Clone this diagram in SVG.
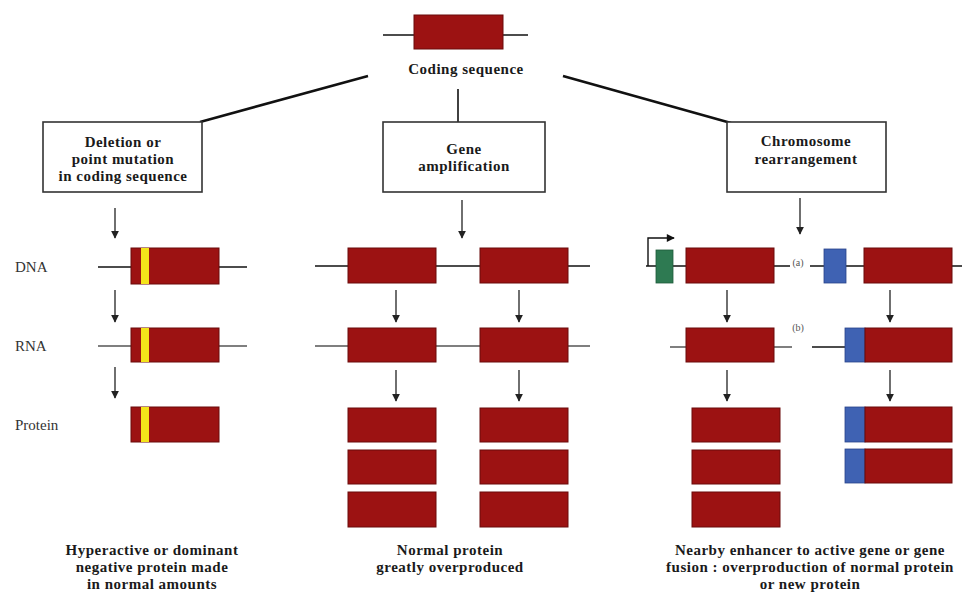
<svg xmlns="http://www.w3.org/2000/svg" width="962" height="599" viewBox="0 0 962 599">
<defs>
<marker id="ah" viewBox="0 0 10 10" refX="9" refY="5" markerWidth="8" markerHeight="9" orient="auto" markerUnits="userSpaceOnUse">
<path d="M0,0 L10,5 L0,10 z" fill="#222"/>
</marker>
<marker id="ahs" viewBox="0 0 10 10" refX="9" refY="5" markerWidth="9" markerHeight="8" orient="auto" markerUnits="userSpaceOnUse">
<path d="M0,0 L10,5 L0,10 z" fill="#111"/>
</marker>
</defs>
<style>
.t{font-family:"Liberation Serif","Times New Roman",serif;font-size:15px;font-weight:bold;letter-spacing:0.5px;fill:#1a1a1a;text-anchor:middle}
.lbl{font-family:"Liberation Serif","Times New Roman",serif;font-size:15px;fill:#333;text-anchor:start}
.sm{font-family:"Liberation Serif","Times New Roman",serif;font-size:10px;fill:#555;text-anchor:middle}
.box{fill:#fff;stroke:#333;stroke-width:1.6}
.gene{fill:#9c1212;stroke:#6b0b0b;stroke-width:1}
.yel{fill:#f4e41a}
.grn{fill:#2e7a52;stroke:#1f5a3a;stroke-width:0.8}
.blu{fill:#3f62b3;stroke:#2a448a;stroke-width:0.8}
.dna{stroke:#111;stroke-width:1.6}
.rna{stroke:#555;stroke-width:1.4}
.arr{stroke:#222;stroke-width:1.3;marker-end:url(#ah)}
.con{stroke:#111;stroke-width:2.6;fill:none}
</style>
<rect width="962" height="599" fill="#fff"/>

<g id="connectors">
<line class="con" x1="368" y1="76" x2="200" y2="122"/>
<line class="con" x1="458" y1="89" x2="458" y2="122" style="stroke-width:1.6"/>
<line class="con" x1="563" y1="76" x2="731" y2="123"/>
<line class="arr" x1="115" y1="208" x2="115" y2="238"/>
<line class="arr" x1="462" y1="200" x2="462" y2="238"/>
<line class="arr" x1="800" y1="198" x2="800" y2="234"/>
<line class="arr" x1="115" y1="290" x2="115" y2="322"/>
<line class="arr" x1="115" y1="367" x2="115" y2="398"/>
<line class="arr" x1="396" y1="290" x2="396" y2="322"/>
<line class="arr" x1="519" y1="290" x2="519" y2="322"/>
<line class="arr" x1="396" y1="370" x2="396" y2="401"/>
<line class="arr" x1="519" y1="370" x2="519" y2="401"/>
<line class="arr" x1="727" y1="290" x2="727" y2="322"/>
<line class="arr" x1="890" y1="290" x2="890" y2="322"/>
<line class="arr" x1="727" y1="370" x2="727" y2="401"/>
<line class="arr" x1="890" y1="370" x2="890" y2="401"/>
</g>

<g id="coding-sequence">
<line class="dna" x1="383" y1="35" x2="528" y2="35"/>
<rect class="gene" x="414" y="15" width="89" height="34"/>
<text class="t" x="466" y="74">Coding sequence</text>
</g>

<g id="deletion">
<rect class="box" x="43" y="122" width="159" height="70"/>
<text class="t" x="123" y="147">Deletion or</text>
<text class="t" x="123" y="164">point mutation</text>
<text class="t" x="123" y="181">in coding sequence</text>
</g>

<g id="amplification">
<rect class="box" x="383" y="122" width="162" height="70"/>
<text class="t" x="464" y="154">Gene</text>
<text class="t" x="464" y="171">amplification</text>
</g>

<g id="rearrangement">
<rect class="box" x="727" y="122" width="159" height="70"/>
<text class="t" x="806" y="146">Chromosome</text>
<text class="t" x="806" y="164">rearrangement</text>
</g>

<g id="row-labels">
<text class="lbl" x="15" y="272">DNA</text>
<text class="lbl" x="15" y="351">RNA</text>
<text class="lbl" x="15" y="430">Protein</text>
</g>

<g id="left-dna">
<line class="dna" x1="98" y1="267" x2="247" y2="267"/>
<rect class="gene" x="131" y="248" width="88" height="36"/>
<rect class="yel" x="141" y="248" width="8" height="36"/>
</g>
<g id="left-rna">
<line class="rna" x1="98" y1="346" x2="247" y2="346"/>
<rect class="gene" x="131" y="328" width="88" height="34"/>
<rect class="yel" x="141" y="328" width="8" height="34"/>
</g>
<g id="left-protein">
<rect class="gene" x="131" y="407" width="88" height="35"/>
<rect class="yel" x="141" y="407" width="8" height="35"/>
</g>

<g id="mid-dna">
<line class="dna" x1="315" y1="266" x2="590" y2="266"/>
<rect class="gene" x="348" y="248" width="88" height="35"/>
<rect class="gene" x="480" y="248" width="88" height="35"/>
</g>
<g id="mid-rna">
<line class="rna" x1="315" y1="346" x2="590" y2="346"/>
<rect class="gene" x="348" y="328" width="88" height="34"/>
<rect class="gene" x="480" y="328" width="88" height="34"/>
</g>
<g id="mid-protein">
<rect class="gene" x="348" y="408" width="88" height="34"/>
<rect class="gene" x="348" y="450" width="88" height="34"/>
<rect class="gene" x="348" y="492" width="88" height="35"/>
<rect class="gene" x="480" y="408" width="88" height="34"/>
<rect class="gene" x="480" y="450" width="88" height="34"/>
<rect class="gene" x="480" y="492" width="88" height="35"/>
</g>

<g id="right-dna-a">
<line class="dna" x1="646" y1="266" x2="790" y2="266"/>
<polyline points="648,266 648,238 674,238" fill="none" stroke="#111" stroke-width="1.4" marker-end="url(#ahs)"/>
<rect class="grn" x="656" y="250" width="17" height="33"/>
<rect class="gene" x="686" y="248" width="88" height="35"/>
<text class="sm" x="798" y="266">(a)</text>
</g>
<g id="right-dna-b">
<line class="dna" x1="810" y1="266" x2="962" y2="266"/>
<rect class="blu" x="824" y="249" width="22" height="34"/>
<rect class="gene" x="864" y="248" width="88" height="35"/>
</g>
<g id="right-rna-a">
<line class="rna" x1="670" y1="347" x2="792" y2="347"/>
<rect class="gene" x="686" y="328" width="88" height="34"/>
<text class="sm" x="798" y="331">(b)</text>
</g>
<g id="right-rna-b">
<line class="dna" x1="812" y1="347" x2="846" y2="347"/>
<rect class="blu" x="845" y="328" width="20" height="34"/>
<rect class="gene" x="865" y="328" width="87" height="34"/>
</g>
<g id="right-protein-a">
<rect class="gene" x="692" y="408" width="88" height="34"/>
<rect class="gene" x="692" y="450" width="88" height="34"/>
<rect class="gene" x="692" y="492" width="88" height="35"/>
</g>
<g id="right-protein-b">
<rect class="blu" x="845" y="407" width="20" height="35"/>
<rect class="gene" x="865" y="407" width="87" height="35"/>
<rect class="blu" x="845" y="449" width="20" height="34"/>
<rect class="gene" x="865" y="449" width="87" height="34"/>
</g>

<g id="captions">
<text class="t" x="152" y="555">Hyperactive or dominant</text>
<text class="t" x="152" y="572">negative protein made</text>
<text class="t" x="152" y="589">in normal amounts</text>
<text class="t" x="450" y="555">Normal protein</text>
<text class="t" x="450" y="572">greatly overproduced</text>
<text class="t" x="810" y="555">Nearby enhancer to active gene or gene</text>
<text class="t" x="810" y="572">fusion : overproduction of normal protein</text>
<text class="t" x="810" y="589">or new protein</text>
</g>
</svg>
